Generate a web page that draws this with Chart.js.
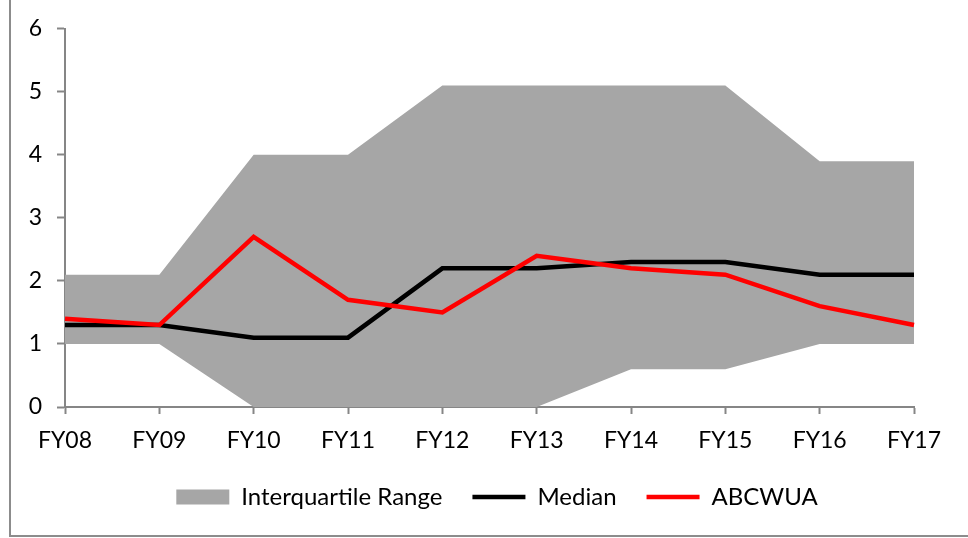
<!DOCTYPE html>
<html>
<head>
<meta charset="utf-8">
<script src="https://cdn.jsdelivr.net/npm/chart.js@4/dist/chart.umd.min.js"></script>
<style>
  body { margin: 0; background: #fff; overflow: hidden; }
  #frame {
    position: absolute; left: 9px; top: -10px; width: 1000px; height: 545px;
    border-left: 2px solid #8c8c8c; border-bottom: 2px solid #8c8c8c;
  }
  #chart { position: absolute; left: 0; top: 0; }
</style>
</head>
<body>
<div id="frame"></div>
<canvas id="chart" width="968" height="538"></canvas>
<script>
const categories = ['FY08', 'FY09', 'FY10', 'FY11', 'FY12', 'FY13', 'FY14', 'FY15', 'FY16', 'FY17'];
const iqrLow = [1, 1, 0, 0, 0, 0, 0.6, 0.6, 1, 1];
const iqrHigh = [2.1, 2.1, 4, 4, 5.1, 5.1, 5.1, 5.1, 3.9, 3.9];
const median = [1.3, 1.3, 1.1, 1.1, 2.2, 2.2, 2.3, 2.3, 2.1, 2.1];
const abcwua = [1.4, 1.3, 2.7, 1.7, 1.5, 2.4, 2.2, 2.1, 1.6, 1.3];
const yTicks = [0, 1, 2, 3, 4, 5, 6];

const axisGray = '#868686';
const fontFamily = 'Lato, "Open Sans", sans-serif';

// nudge the legend right so it sits under the middle of the frame
const legendShift = {
    id: 'legendShift',
    afterLayout(chart) {
        chart.legend.left += 40;
        chart.legend.right += 40;
    }
};

const ctx = document.getElementById('chart');

new Chart(ctx, {
    type: 'line',
    data: {
        labels: categories,
        datasets: [
            {
                label: 'ABCWUA',
                data: abcwua,
                borderColor: '#ff0000',
                backgroundColor: '#ff0000',
                borderWidth: 4.5,
                pointRadius: 0,
                pointStyle: 'line',
                tension: 0,
                order: 1
            },
            {
                label: 'Median',
                data: median,
                borderColor: '#000000',
                backgroundColor: '#000000',
                borderWidth: 4.5,
                pointRadius: 0,
                pointStyle: 'line',
                tension: 0,
                order: 2
            },
            {
                label: 'Interquartile Range',
                data: iqrHigh,
                borderWidth: 0,
                borderColor: '#a6a6a6',
                backgroundColor: '#a6a6a6',
                pointRadius: 0,
                pointStyle: 'rect',
                fill: '+1',
                tension: 0,
                order: 3
            },
            {
                label: 'low',
                data: iqrLow,
                borderWidth: 0,
                pointRadius: 0,
                fill: false,
                tension: 0,
                order: 4
            }
        ]
    },
    options: {
        responsive: false,
        animation: false,
        layout: {
            padding: { top: 27, right: 54, left: 0, bottom: 19 }
        },
        plugins: {
            tooltip: { enabled: false },
            legend: {
                position: 'bottom',
                labels: {
                    usePointStyle: true,
                    pointStyleWidth: 53,
                    boxHeight: 15,
                    padding: 30,
                    color: '#000',
                    font: { family: fontFamily, size: 24 },
                    // show the range first, then the two lines; skip the lower bound
                    filter: (item) => item.text !== 'low',
                    sort: (a, b) => b.datasetIndex - a.datasetIndex
                }
            }
        },
        scales: {
            x: {
                type: 'category',
                offset: false,
                grid: {
                    drawOnChartArea: false,
                    drawTicks: true,
                    tickLength: 7,
                    tickWidth: 2,
                    tickColor: axisGray
                },
                border: { color: axisGray, width: 2 },
                ticks: {
                    color: '#000',
                    padding: 13,
                    maxRotation: 0,
                    font: { family: fontFamily, size: 23 }
                },
                afterFit: (scale) => { scale.height = 48; }
            },
            y: {
                min: 0,
                max: 6,
                afterBuildTicks: (scale) => {
                    scale.ticks = yTicks.map(v => ({ value: v }));
                },
                grid: {
                    drawOnChartArea: false,
                    drawTicks: true,
                    tickLength: 8,
                    tickWidth: 2,
                    tickColor: axisGray
                },
                border: { color: axisGray, width: 2 },
                ticks: {
                    color: '#000',
                    padding: 15,
                    font: { family: fontFamily, size: 23 }
                },
                afterFit: (scale) => { scale.width = 65; }
            }
        }
    },
    plugins: [legendShift]
});
</script>
</body>
</html>
